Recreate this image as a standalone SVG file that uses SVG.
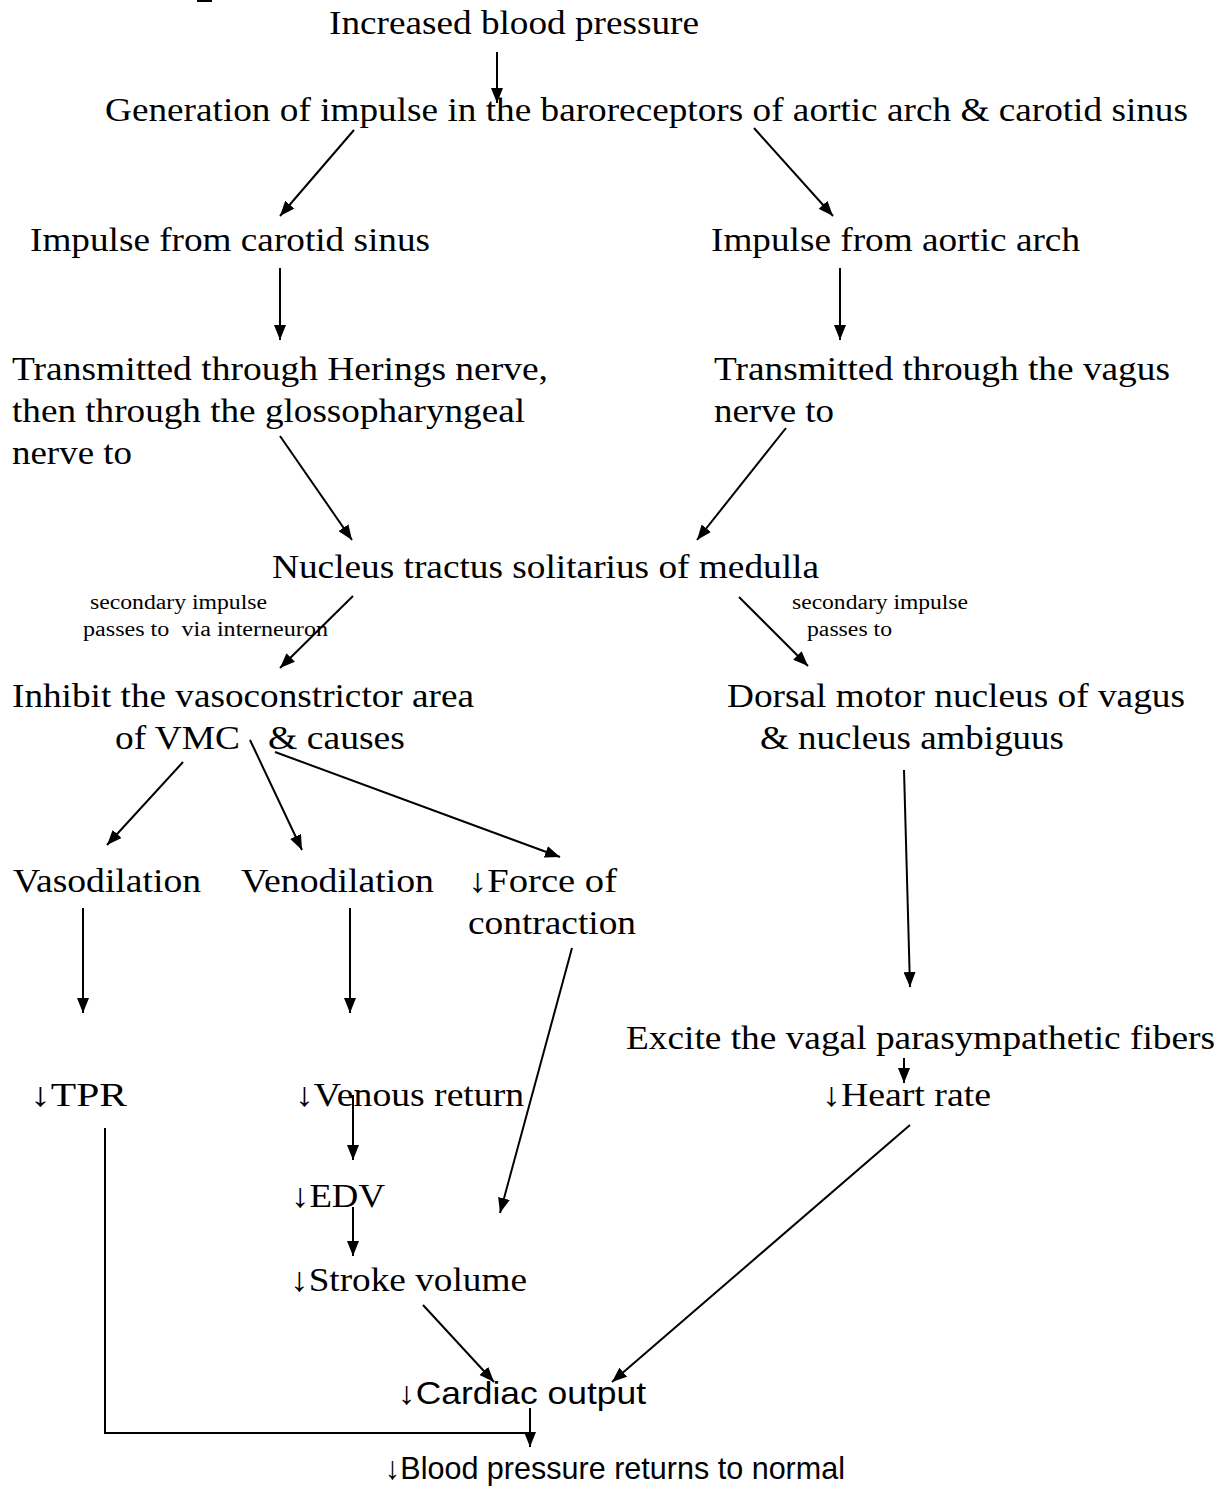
<svg xmlns="http://www.w3.org/2000/svg" width="1222" height="1490" viewBox="0 0 1222 1490">
<style>
.t{font-family:"Liberation Serif","Times New Roman",Tinos,Times,serif;font-size:34px;fill:#000}
.s{font-family:"Liberation Serif","Times New Roman",Tinos,Times,serif;font-size:20px;fill:#000}
.c{font-family:"Liberation Sans","Open Sans",Arial,sans-serif;font-size:32px;fill:#000}
.e{stroke:#000;stroke-width:2;fill:none}
.a{marker-end:url(#ah)}
</style>
<defs>
<marker id="ah" markerUnits="userSpaceOnUse" markerWidth="16" markerHeight="12" refX="15" refY="6" orient="auto">
<path d="M0,0 L15,6 L0,12 z" fill="#000"/>
</marker>
</defs>
<rect x="197" y="0" width="15" height="2" fill="#000"/>
<g id="connectors">
<line class="e a" x1="497" y1="52" x2="497" y2="103"/>
<line class="e a" x1="354" y1="130" x2="280" y2="216"/>
<line class="e a" x1="754" y1="128" x2="833" y2="216"/>
<line class="e a" x1="280" y1="268" x2="280" y2="340"/>
<line class="e a" x1="840" y1="268" x2="840" y2="340"/>
<line class="e a" x1="280" y1="436" x2="352" y2="540"/>
<line class="e a" x1="786" y1="428" x2="697" y2="540"/>
<line class="e a" x1="353" y1="596" x2="280" y2="668"/>
<line class="e a" x1="739" y1="597" x2="808" y2="666"/>
<line class="e a" x1="183" y1="762" x2="107" y2="845"/>
<line class="e a" x1="250" y1="740" x2="302" y2="850"/>
<line class="e a" x1="275" y1="752" x2="560" y2="857"/>
<line class="e a" x1="83" y1="908" x2="83" y2="1013"/>
<line class="e a" x1="350" y1="908" x2="350" y2="1013"/>
<line class="e a" x1="572" y1="948" x2="500" y2="1213"/>
<line class="e a" x1="904" y1="770" x2="910" y2="987"/>
<line class="e a" x1="904" y1="1058" x2="904" y2="1083"/>
<line class="e a" x1="353" y1="1095" x2="353" y2="1160"/>
<line class="e a" x1="353" y1="1207" x2="353" y2="1256"/>
<line class="e a" x1="423" y1="1305" x2="494" y2="1382"/>
<line class="e a" x1="910" y1="1125" x2="612" y2="1382"/>
<line class="e a" x1="530" y1="1408" x2="530" y2="1447"/>
<polyline class="e" points="105,1128 105,1433 528,1433"/>
</g>
<g id="n1"><text class="t" x="329" y="34" textLength="370" lengthAdjust="spacingAndGlyphs">Increased blood pressure</text></g>
<g id="n2"><text class="t" x="105" y="121" textLength="1083" lengthAdjust="spacingAndGlyphs">Generation of impulse in the baroreceptors of aortic arch &amp; carotid sinus</text></g>
<g id="n3"><text class="t" x="30" y="251" textLength="400" lengthAdjust="spacingAndGlyphs">Impulse from carotid sinus</text></g>
<g id="n4"><text class="t" x="711" y="251" textLength="369" lengthAdjust="spacingAndGlyphs">Impulse from aortic arch</text></g>
<g id="n5">
<text class="t" x="12" y="380" textLength="536" lengthAdjust="spacingAndGlyphs">Transmitted through Herings nerve,</text>
<text class="t" x="12" y="422" textLength="513" lengthAdjust="spacingAndGlyphs">then through the glossopharyngeal</text>
<text class="t" x="12" y="464" textLength="120" lengthAdjust="spacingAndGlyphs">nerve to</text>
</g>
<g id="n6">
<text class="t" x="714" y="380" textLength="456" lengthAdjust="spacingAndGlyphs">Transmitted through the vagus</text>
<text class="t" x="714" y="422" textLength="120" lengthAdjust="spacingAndGlyphs">nerve to</text>
</g>
<g id="n7"><text class="t" x="272" y="578" textLength="547" lengthAdjust="spacingAndGlyphs">Nucleus tractus solitarius of medulla</text></g>
<g id="label-left">
<text class="s" x="90" y="609" textLength="177" lengthAdjust="spacingAndGlyphs">secondary impulse</text>
<text class="s" x="83" y="636" textLength="245" lengthAdjust="spacingAndGlyphs" xml:space="preserve">passes to  via interneuron</text>
</g>
<g id="label-right">
<text class="s" x="792" y="609" textLength="176" lengthAdjust="spacingAndGlyphs">secondary impulse</text>
<text class="s" x="807" y="636" textLength="85" lengthAdjust="spacingAndGlyphs">passes to</text>
</g>
<g id="n8">
<text class="t" x="12" y="707" textLength="462" lengthAdjust="spacingAndGlyphs">Inhibit the vasoconstrictor area</text>
<text class="t" x="115" y="749" textLength="125" lengthAdjust="spacingAndGlyphs">of VMC</text>
<text class="t" x="268" y="749" textLength="137" lengthAdjust="spacingAndGlyphs">&amp; causes</text>
</g>
<g id="n9">
<text class="t" x="727" y="707" textLength="458" lengthAdjust="spacingAndGlyphs">Dorsal motor nucleus of vagus</text>
<text class="t" x="760" y="749" textLength="304" lengthAdjust="spacingAndGlyphs">&amp; nucleus ambiguus</text>
</g>
<g id="n10"><text class="t" x="13" y="892" textLength="188" lengthAdjust="spacingAndGlyphs">Vasodilation</text></g>
<g id="n11"><text class="t" x="241" y="892" textLength="193" lengthAdjust="spacingAndGlyphs">Venodilation</text></g>
<g id="n12">
<text class="t" x="468" y="892" textLength="149" lengthAdjust="spacingAndGlyphs">↓Force of</text>
<text class="t" x="468" y="934" textLength="168" lengthAdjust="spacingAndGlyphs">contraction</text>
</g>
<g id="n13"><text class="t" x="626" y="1049" textLength="589" lengthAdjust="spacingAndGlyphs">Excite the vagal parasympathetic fibers</text></g>
<g id="n14"><text class="t" x="30" y="1106" textLength="97" lengthAdjust="spacingAndGlyphs">↓TPR</text></g>
<g id="n15"><text class="t" x="295" y="1106" textLength="229" lengthAdjust="spacingAndGlyphs">↓Venous return</text></g>
<g id="n16"><text class="t" x="822" y="1106" textLength="169" lengthAdjust="spacingAndGlyphs">↓Heart rate</text></g>
<g id="n17"><text class="t" x="291" y="1207" textLength="94" lengthAdjust="spacingAndGlyphs">↓EDV</text></g>
<g id="n18"><text class="t" x="290" y="1291" textLength="237" lengthAdjust="spacingAndGlyphs">↓Stroke volume</text></g>
<g id="n19"><text class="c" x="398" y="1404" textLength="248" lengthAdjust="spacingAndGlyphs">↓Cardiac output</text></g>
<g id="n20"><text class="c" x="385" y="1479" textLength="460" lengthAdjust="spacingAndGlyphs">↓Blood pressure returns to normal</text></g>
</svg>
